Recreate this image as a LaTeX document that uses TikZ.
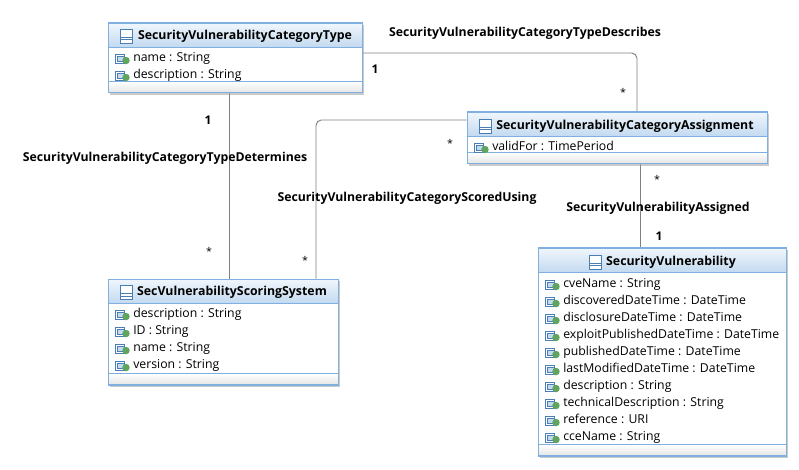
\documentclass[tikz,border=0pt]{standalone}
\usepackage{fontspec}
\setmainfont{Open Sans}
\usetikzlibrary{shadows}
\definecolor{classline}{HTML}{7FB0E0}
\definecolor{headtop}{HTML}{F0F6FC}
\definecolor{headbot}{HTML}{C3DAF0}
\definecolor{footbot}{HTML}{E4E4E4}
\definecolor{assocline}{HTML}{808080}
\definecolor{attrgreen}{HTML}{5FA55F}
\definecolor{iconline}{HTML}{4A7FB5}
\tikzset{
  classbox/.style={draw=classline, fill=white, line width=0.75pt, inner sep=0pt, drop shadow={shadow xshift=1.5pt, shadow yshift=-1.5pt, fill=black!35, opacity=0.6}},
  headbox/.style={draw=classline, line width=0.6pt, top color=headtop, bottom color=headbot, minimum height=18pt, inner sep=0pt, anchor=north},
  footbox/.style={draw=classline, line width=0.6pt, top color=white, bottom color=footbot, minimum height=8.5pt, inner sep=0pt, anchor=south},
  classtitle/.style={font=\fontsize{9.25}{10}\selectfont\bfseries, inner sep=0pt, text height=7pt, text depth=2pt},
  attrtext/.style={font=\fontsize{9.2}{10}\selectfont, inner sep=0pt, anchor=west, text height=7pt, text depth=2pt},
  assoc/.style={draw=assocline, line width=0.7pt, rounded corners=4pt},
  assoclabel/.style={font=\fontsize{9.2}{10}\selectfont\bfseries, inner sep=0pt, text height=7pt, text depth=2pt},
  multone/.style={font=\fontsize{9}{10}\selectfont\bfseries, inner sep=0pt},
  multmany/.style={font=\fontsize{8}{10}\selectfont, inner sep=0pt},
  classicon/.pic={
    \draw[iconline, line width=0.5pt, fill=white] (-4.5pt,-5.25pt) rectangle (4.5pt,5.25pt);
    \draw[iconline, line width=0.5pt] (-4.5pt,-0.75pt) -- (4.5pt,-0.75pt) (-4.5pt,-2.75pt) -- (4.5pt,-2.75pt);
  },
  attricon/.pic={
    \draw[iconline, line width=0.5pt, fill=white] (-13pt,-3.75pt) rectangle (-6.4pt,3pt);
    \draw[iconline, line width=0.5pt, fill=headbot] (-11.5pt,-2.25pt) rectangle (-6.4pt,1pt);
    \fill[attrgreen] (-5.25pt,-1.9pt) circle (2.8pt);
  }
}
\begin{document}
\begin{tikzpicture}[x=0.75pt, y=-0.75pt]
  \useasboundingbox (0,0) rectangle (799,470);
  % Connectors go under the classes
  \node[minimum width=190.5pt, minimum height=52.5pt, inner sep=0pt] (type) at (235,58) {};
  \node[minimum width=225pt, minimum height=39pt, inner sep=0pt] (assign) at (617,138) {};
  \node[minimum width=172.5pt, minimum height=79.5pt, inner sep=0pt] (scoring) at (223,332) {};
  \node[minimum width=186pt, minimum height=156pt, inner sep=0pt] (vuln) at (662,352) {};
  % Arrows
  \draw[assoc] ([xshift=-4.5pt]type.south) -- ([xshift=4.5pt]scoring.north);
  \draw[assoc] ([yshift=3.75pt]type.east) -| ([xshift=15pt]assign.north);
  \draw[assoc] ([yshift=13.5pt]assign.west) -| ([xshift=69.75pt]scoring.north);
  \draw[assoc] ([xshift=17.25pt]assign.south) -- ([xshift=-16.5pt]vuln.north);
  % Classes
  \node[classbox, minimum width=190.5pt, minimum height=52.5pt] (typeframe) at (type) {};
  \node[headbox, minimum width=190.5pt] (typehead) at (type.north) {};
  \node[footbox, minimum width=190.5pt] (typefoot) at (type.south) {};
  \node[classtitle] (typetitle) at (245,36) {SecurityVulnerabilityCategoryType};
  \pic at ([xshift=-8.25pt]typetitle.west) {classicon};
  \foreach \attr [count=\i] in {name : String, description : String} {
    \node[attrtext] (typeattr\i) at (133,41+17*\i) {\attr};
    \pic at (typeattr\i.west) {attricon};
  }
  \node[classbox, minimum width=225pt, minimum height=39pt] (assignframe) at (assign) {};
  \node[headbox, minimum width=225pt] (assignhead) at (assign.north) {};
  \node[footbox, minimum width=225pt] (assignfoot) at (assign.south) {};
  \node[classtitle] (assigntitle) at (625,126) {SecurityVulnerabilityCategoryAssignment};
  \pic at ([xshift=-8.25pt]assigntitle.west) {classicon};
  \foreach \attr [count=\i] in {validFor : TimePeriod} {
    \node[attrtext] (assignattr\i) at (492,130+17*\i) {\attr};
    \pic at (assignattr\i.west) {attricon};
  }
  \node[classbox, minimum width=172.5pt, minimum height=79.5pt] (scoringframe) at (scoring) {};
  \node[headbox, minimum width=172.5pt] (scoringhead) at (scoring.north) {};
  \node[footbox, minimum width=172.5pt] (scoringfoot) at (scoring.south) {};
  \node[classtitle] (scoringtitle) at (232,292.5) {SecVulnerabilityScoringSystem};
  \pic at ([xshift=-8.25pt]scoringtitle.west) {classicon};
  \foreach \attr [count=\i] in {description : String, ID : String, name : String, version : String} {
    \node[attrtext] (scoringattr\i) at (133,297+17*\i) {\attr};
    \pic at (scoringattr\i.west) {attricon};
  }
  \node[classbox, minimum width=186pt, minimum height=156pt] (vulnframe) at (vuln) {};
  \node[headbox, minimum width=186pt] (vulnhead) at (vuln.north) {};
  \node[footbox, minimum width=186pt] (vulnfoot) at (vuln.south) {};
  \node[classtitle] (vulntitle) at (671,262) {SecurityVulnerability};
  \pic at ([xshift=-8.25pt]vulntitle.west) {classicon};
  \foreach \attr [count=\i] in {cveName : String, discoveredDateTime : DateTime, disclosureDateTime : DateTime, exploitPublishedDateTime : DateTime, publishedDateTime : DateTime, lastModifiedDateTime : DateTime, description : String, technicalDescription : String, reference : URI, cceName : String} {
    \node[attrtext] (vulnattr\i) at (563,267+17*\i) {\attr};
    \pic at (vulnattr\i.west) {attricon};
  }
  % Labels
  \node[assoclabel] (describes) at (525,33) {SecurityVulnerabilityCategoryTypeDescribes};
  \node[assoclabel] (determines) at (165,158) {SecurityVulnerabilityCategoryTypeDetermines};
  \node[assoclabel] (scored) at (407,198.5) {SecurityVulnerabilityCategoryScoredUsing};
  \node[assoclabel] (assigned) at (658,208) {SecurityVulnerabilityAssigned};
  \node[multone] (m1) at (375,69) {1};
  \node[multmany] (m2) at (623,92) {*};
  \node[multone] (m3) at (208,120) {1};
  \node[multmany] (m4) at (209,251) {*};
  \node[multmany] (m5) at (450,143) {*};
  \node[multmany] (m6) at (305,260) {*};
  \node[multmany] (m7) at (657,179) {*};
  \node[multone] (m8) at (659,236) {1};
\end{tikzpicture}
\end{document}
